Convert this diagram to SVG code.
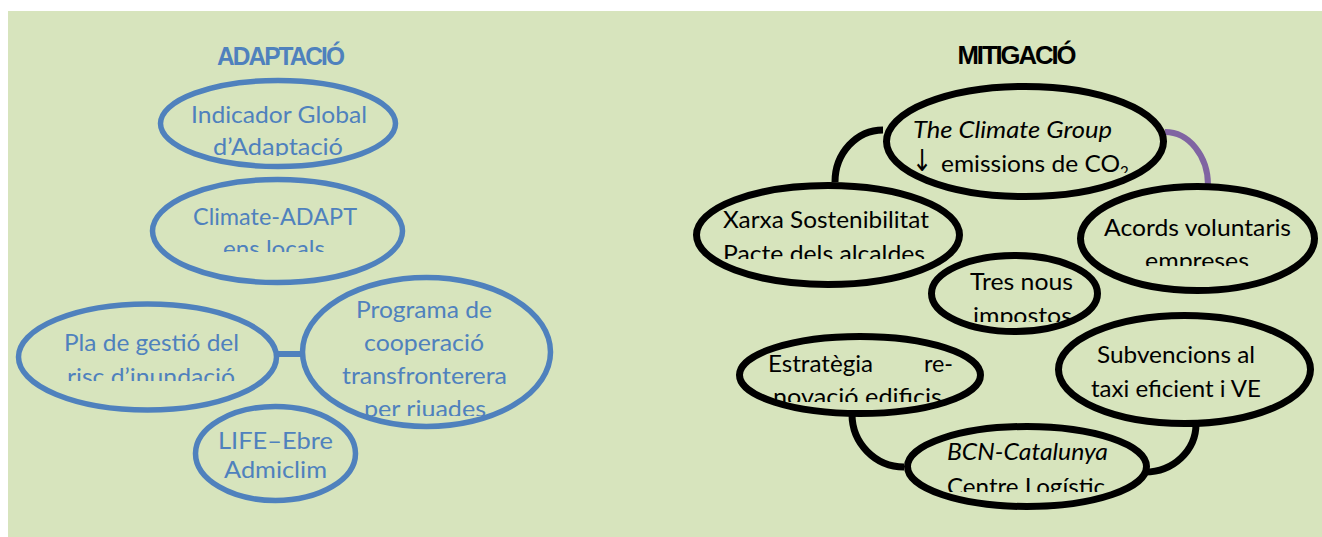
<svg xmlns="http://www.w3.org/2000/svg" width="1322" height="537" viewBox="0 0 1322 537">
<style>
.bg{fill:#d7e4bd}
.nb{fill:none;stroke:#4f81bd;stroke-width:5.5}
.nk{fill:none;stroke:#000;stroke-width:7}
.tb{font-family:Lato,"Liberation Sans",sans-serif;font-size:23px;fill:#4f81bd}
.tk{font-family:Lato,"Liberation Sans",sans-serif;font-size:23px;fill:#000}
.it{font-style:italic}
.title{font-family:"Liberation Sans",Arial,sans-serif;font-size:25px;font-weight:bold;letter-spacing:-2px}
.cb{fill:none;stroke:#4f81bd;stroke-width:6}
.ck{fill:none;stroke:#000;stroke-width:7}
.cp{fill:none;stroke:#8064a2;stroke-width:6}
</style>
<defs>
<clipPath id="c1"><rect x="150" y="80" width="260" height="76"/></clipPath>
<clipPath id="c2"><rect x="150" y="180" width="260" height="72"/></clipPath>
<clipPath id="c3"><rect x="15" y="305" width="270" height="76"/></clipPath>
<clipPath id="c4"><rect x="300" y="280" width="255" height="136"/></clipPath>
<clipPath id="c6"><rect x="880" y="85" width="290" height="88"/></clipPath>
<clipPath id="c7"><rect x="695" y="185" width="270" height="74"/></clipPath>
<clipPath id="c8"><rect x="1075" y="185" width="245" height="81"/></clipPath>
<clipPath id="c9"><rect x="928" y="255" width="175" height="67"/></clipPath>
<clipPath id="c11"><rect x="735" y="335" width="250" height="67"/></clipPath>
<clipPath id="c12"><rect x="900" y="425" width="255" height="67"/></clipPath>
</defs>
<rect class="bg" x="8" y="11" width="1314" height="526"/>
<text class="title" x="280" y="65" text-anchor="middle" fill="#4f81bd" textLength="126" lengthAdjust="spacingAndGlyphs">ADAPTACIÓ</text>
<text class="title" x="1016" y="64" text-anchor="middle" fill="#000" textLength="117" lengthAdjust="spacingAndGlyphs">MITIGACIÓ</text>
<g id="connectors">
<line class="cb" x1="278" y1="354" x2="302" y2="354"/>
<path class="ck" d="M883,130 A48,52 0 0 0 835,182"/>
<path class="cp" d="M1165,132 A43,53 0 0 1 1208,185"/>
<path class="ck" d="M852,414 A52,53 0 0 0 904,467"/>
<path class="ck" d="M1196,424 A51,48 0 0 1 1145,472"/>
</g>
<g id="n-indicador">
<ellipse class="nb" cx="278" cy="123.5" rx="117.5" ry="43"/>
<g clip-path="url(#c1)">
<text class="tb" x="191" y="123" textLength="176" lengthAdjust="spacingAndGlyphs">Indicador Global</text>
<text class="tb" x="213" y="155" textLength="130" lengthAdjust="spacingAndGlyphs">d’Adaptació</text>
</g>
</g>
<g id="n-climate-adapt">
<ellipse class="nb" cx="277.5" cy="231" rx="125" ry="51.5"/>
<g clip-path="url(#c2)">
<text class="tb" x="193" y="225" textLength="164" lengthAdjust="spacingAndGlyphs">Climate-ADAPT</text>
<text class="tb" x="223" y="257" textLength="102" lengthAdjust="spacingAndGlyphs">ens locals</text>
</g>
</g>
<g id="n-pla">
<ellipse class="nb" cx="147.5" cy="357" rx="129" ry="53"/>
<g clip-path="url(#c3)">
<text class="tb" x="64" y="351" textLength="175" lengthAdjust="spacingAndGlyphs">Pla de gestió del</text>
<text class="tb" x="67" y="385" textLength="168" lengthAdjust="spacingAndGlyphs">risc d’inundació</text>
</g>
</g>
<g id="n-programa">
<ellipse class="nb" cx="426.5" cy="352" rx="124" ry="74.5"/>
<g clip-path="url(#c4)">
<text class="tb" x="356" y="318" textLength="136" lengthAdjust="spacingAndGlyphs">Programa de</text>
<text class="tb" x="364" y="351" textLength="120" lengthAdjust="spacingAndGlyphs">cooperació</text>
<text class="tb" x="342" y="384" textLength="165" lengthAdjust="spacingAndGlyphs">transfronterera</text>
<text class="tb" x="364" y="417" textLength="122" lengthAdjust="spacingAndGlyphs">per riuades</text>
</g>
</g>
<g id="n-life">
<ellipse class="nb" cx="275.5" cy="453.5" rx="80" ry="47"/>
<text class="tb" x="218" y="449" textLength="115" lengthAdjust="spacingAndGlyphs">LIFE–Ebre</text>
<text class="tb" x="224" y="478" textLength="103" lengthAdjust="spacingAndGlyphs">Admiclim</text>
</g>
<g id="n-climate-group">
<ellipse class="nk" cx="1025" cy="141.5" rx="138.5" ry="55"/>
<g clip-path="url(#c6)">
<text class="tk it" x="913" y="138" textLength="199" lengthAdjust="spacingAndGlyphs">The Climate Group</text>
<text class="tk" x="912" y="171"><tspan font-family="DejaVu Sans, sans-serif" font-size="30" textLength="20" lengthAdjust="spacingAndGlyphs">↓</tspan><tspan x="941" y="172" textLength="179" lengthAdjust="spacingAndGlyphs">emissions de CO</tspan><tspan font-size="15" dy="5">2</tspan></text>
</g>
</g>
<g id="n-xarxa">
<ellipse class="nk" cx="828" cy="235" rx="131.5" ry="49.5"/>
<g clip-path="url(#c7)">
<text class="tk" x="723" y="228" textLength="206" lengthAdjust="spacingAndGlyphs">Xarxa Sostenibilitat</text>
<text class="tk" x="723" y="262" textLength="202" lengthAdjust="spacingAndGlyphs">Pacte dels alcaldes</text>
</g>
</g>
<g id="n-acords">
<ellipse class="nk" cx="1197.5" cy="238.5" rx="117" ry="52"/>
<g clip-path="url(#c8)">
<text class="tk" x="1104" y="236" textLength="187" lengthAdjust="spacingAndGlyphs">Acords voluntaris</text>
<text class="tk" x="1145" y="269" textLength="104" lengthAdjust="spacingAndGlyphs">empreses</text>
</g>
</g>
<g id="n-tres">
<ellipse class="nk" cx="1014.5" cy="293.5" rx="83" ry="38"/>
<g clip-path="url(#c9)">
<text class="tk" x="970" y="290" textLength="103" lengthAdjust="spacingAndGlyphs">Tres nous</text>
<text class="tk" x="973" y="324" textLength="99" lengthAdjust="spacingAndGlyphs">impostos</text>
</g>
</g>
<g id="n-subvencions">
<ellipse class="nk" cx="1184.5" cy="369.5" rx="126" ry="54"/>
<text class="tk" x="1097" y="363" textLength="158" lengthAdjust="spacingAndGlyphs">Subvencions al</text>
<text class="tk" x="1091" y="397" textLength="170" lengthAdjust="spacingAndGlyphs">taxi eficient i VE</text>
</g>
<g id="n-estrategia">
<ellipse class="nk" cx="860" cy="375" rx="120.5" ry="38.5"/>
<g clip-path="url(#c11)">
<text class="tk" y="372"><tspan x="768" textLength="105" lengthAdjust="spacingAndGlyphs">Estratègia</tspan><tspan x="924" textLength="29" lengthAdjust="spacingAndGlyphs">re-</tspan></text>
<text class="tk" x="773" y="405" textLength="169" lengthAdjust="spacingAndGlyphs">novació edificis</text>
</g>
</g>
<g id="n-bcn">
<ellipse class="nk" cx="1027" cy="466.5" rx="119.5" ry="40"/>
<g clip-path="url(#c12)">
<text class="tk it" x="947" y="460" textLength="161" lengthAdjust="spacingAndGlyphs">BCN-Catalunya</text>
<text class="tk" x="947" y="495" textLength="158" lengthAdjust="spacingAndGlyphs">Centre Logístic</text>
</g>
</g>
</svg>
